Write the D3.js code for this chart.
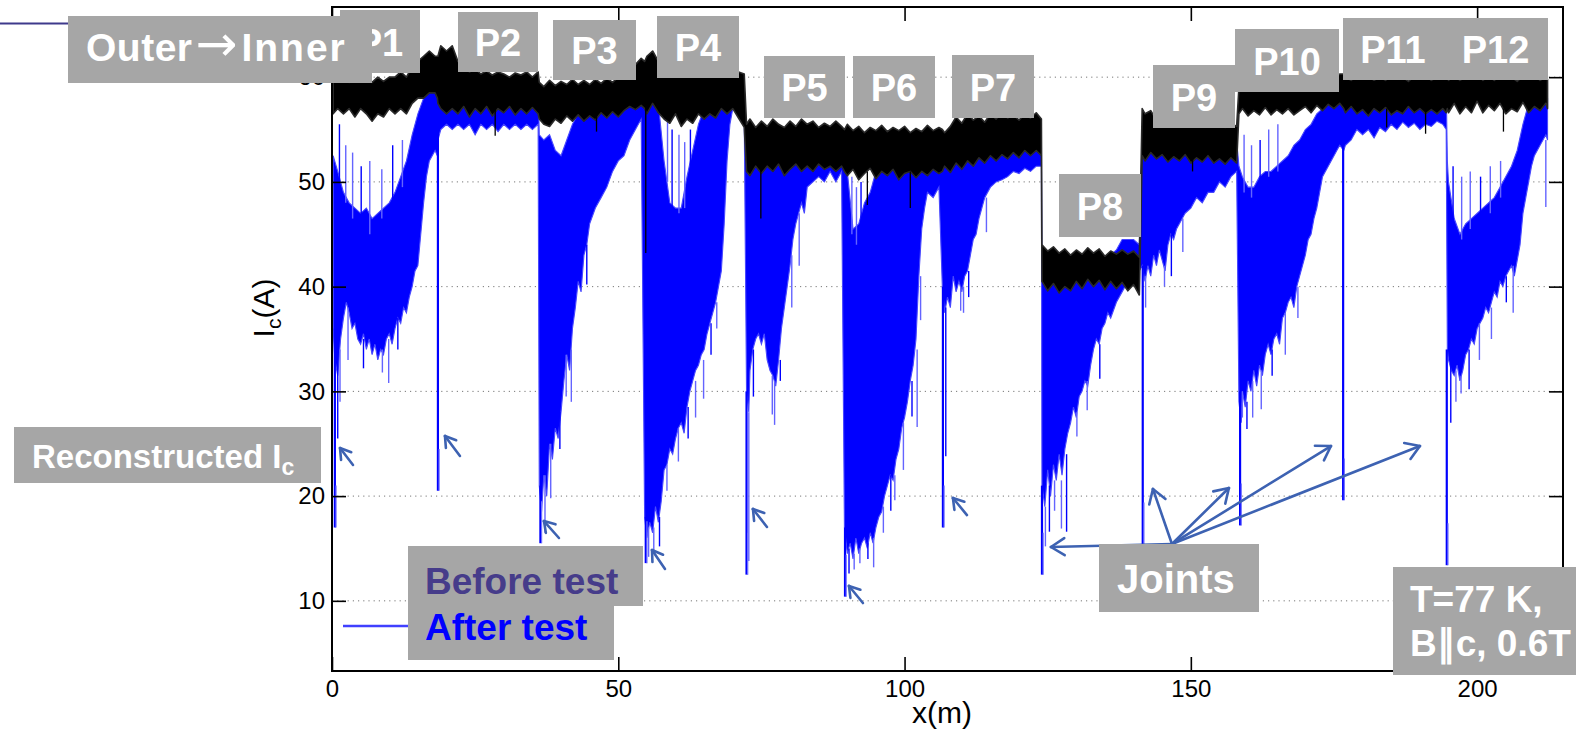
<!DOCTYPE html>
<html><head><meta charset="utf-8">
<script src="https://cdn.jsdelivr.net/npm/d3@7"></script>
<style>
body{margin:0;background:#fff}
svg{display:block}
text{font-family:"Liberation Sans",Arial,Helvetica,sans-serif}
</style>
</head><body>
<svg id="c" width="1576" height="731"></svg>
<script>
// ---------------- DATA (Ic in A vs x in m) ----------------
const hiX = [
 0.2,1,2,3,4,5,6,7,8,9,10,11,12,13,14,15,16,17,18,18.4,
 18.5,19,20,21,22,23,24,25,26,27,28,29,30,31,32,33,34,35,36,
 36.2,37,38,39,40,41,42,43,44,45,46,47,48,49,50,51,52,53,54,
 54.6,55,56,57,58,59,60,61,62,63,64,65,66,67,68,69,70,71,72,
 72.4,73,74,75,76,77,78,79,80,81,82,83,84,85,86,87,88,89,
 89.5,90,91,92,93,94,95,96,97,98,99,100,101,102,103,104,105,106,
 106.6,107,108,109,110,111,112,113,114,115,116,117,118,119,120,121,122,123,123.9,
 124,125,126,127,128,129,130,131,132,133,134,135,136,137,138,139,140,141,
 141.5,142,143,144,145,146,147,148,149,150,151,152,153,154,155,156,157,158,
 158.4,159,160,161,162,163,164,165,166,167,168,169,170,171,172,173,174,175,176,
 176.7,177,178,179,180,181,182,183,184,185,186,187,188,189,190,191,192,193,194,194.6,
 194.8,195,196,197,198,199,200,201,202,203,204,205,206,207,208,209,210,211,212,212.3];
const blueHi = [
 52.5,51,49,48,47.5,47,47.5,46.5,47,47.5,48,49,50.5,52,54.5,56.5,58,59,59.5,59,
 59,62,62.5,61.5,60,59.5,59.5,59.5,59.5,59.5,59.5,59.5,59.5,59.5,59.5,59.5,59.5,59.5,59.5,
 54.5,54,54.5,53,52.5,54,55.5,56.5,57,57,57,57.5,57.5,57.5,57.5,58,58,58.5,58.5,
 58,58.5,58,57.5,52,48,47.5,47.5,50.5,53,55.5,57,57.5,58,58,58.5,58.5,58,57,
 54,53.5,53,53.5,54,53.5,53,53.5,54,53.5,53,53.5,54,53.5,53,53.5,54,53.5,
 52,51,45.5,46,48,49,51,51.5,52,52,52,52,52,52,52,52,52,52.5,
 52.5,52.5,52.5,53,53,53,53,53.5,53.5,53.5,53.5,54,54,54,54,54.5,54.5,54.5,54.5,
 42.5,42,42.5,42,42.5,42,42.5,42,42.5,42,42.5,42.5,43,43.5,44.5,44.5,44.5,44,
 54.5,54,53.5,54,54.5,54,53.5,54,54.5,54,53.5,54,54.5,54,53.5,54,54.5,54,
 51.5,50.5,49.5,49.5,50.5,51,51,51.5,52,52.5,53.5,54,55,55.5,56.5,57,57.5,58,58.5,
 59.5,59,58.5,59,59.5,59,58.5,59,59.5,59,58.5,59,59.5,59,58.5,59,59.5,59,58.5,59,
 52,50,46.5,45,46,46.5,47,47.5,48,48.5,49.5,50.5,51.5,53,55.5,57.5,58,58.5,58.5,58];
const blackHi = [
 60,59.6,60,59.5,60,59.7,60,59.5,60,59.6,60,60,60.5,60,61,61.5,62,62.5,62,62,
 62,63,62.5,63,61.5,61,60.5,60.8,60.3,60.6,60.2,60.5,60.3,60,60.4,60.2,60.5,60,60.5,
 59.5,59.1,59.7,59.2,59.6,59.3,59.8,59.3,59.7,59.3,59.8,59.4,59.9,59.5,60,60.3,60.8,61.2,61.8,
 61.5,62,62.5,61.5,60.5,60.8,60.1,60.5,60.2,60.6,60.1,60.4,60.2,60.5,60.1,60.3,60.1,60.5,60.3,
 55.5,56,55.2,55.8,55.3,56,55.5,55.2,55.8,55.3,56,55.5,55.8,55.2,55.6,55.3,55.8,55.3,
 55,55.5,54.9,55.3,54.7,55.2,54.9,55.4,54.8,55.2,54.9,55.3,54.7,55.1,54.8,55.4,54.9,55.2,
 55,54.7,55.3,56.2,55.6,56.5,55.9,56.3,55.7,56.5,56,56.6,56.1,56.4,55.9,56.5,56.1,56.6,56,
 44,43.4,43.8,43.2,43.6,43,43.5,43.1,43.7,43.2,43.6,42.9,43.4,43.1,43.5,43.1,43.4,42.8,
 57,56.5,56.8,55.9,56.2,55.6,56,55.5,56.1,55.6,55.9,55.4,55.8,55.3,55.7,55.2,55.6,55.3,
 59,58.7,59.2,58.8,59.3,58.7,59.1,58.8,59.4,58.9,59.2,58.8,59.3,59.6,60,59.6,60.2,59.8,60.3,
 60.3,60,59.7,60.2,59.8,60.1,59.7,60,59.7,60.2,59.8,60,59.6,60.1,59.8,60.2,59.7,60,59.8,60,
 60,59.7,60.2,59.7,60,59.8,60.3,59.7,60.1,59.7,60.2,59.8,60,59.6,60.1,59.8,60.2,59.7,60,59.8];
const blackLo = [
 56.5,57,56.5,57,56.2,57,56.5,55.8,56.5,56.2,57,56.5,57,56.5,57.5,58,58,58.5,58.5,58,
 57.5,57,56.5,57,56.5,57.2,56.2,57,56.5,57.2,56.3,57,56.6,57.2,56.4,57,56.5,57.1,56.5,
 56,55.5,55.3,56,55.6,56.3,55.8,56.4,55.8,56.3,55.9,56.6,56.1,56.7,56.2,56.8,57.2,56.9,57.3,
 57,56.5,57.5,56.6,56,55.6,56.5,55.3,56,55.6,56.5,56,56.5,56.1,57,56.5,57,56.1,55.2,
 51,50.6,51.5,50.8,51.5,51,51.7,50.6,51.2,51.7,51,51.5,51,51.7,51.2,51.5,51,51.5,
 51,50.6,51.2,50.2,50.8,51.3,50.3,51,50.6,51.2,50.2,50.8,51,50.4,51,50.6,51.2,50.8,
 51,51.5,50.9,51.8,51.2,52,51.5,52.3,51.8,52.5,52,52.6,52.2,52.8,52.3,53,52.5,53,52.5,
 40.5,39.6,40.3,39.4,40,39.6,40.5,39.8,40.7,40,40.6,39.7,40.5,39.8,40.4,39.6,40.2,39.2,
 52.5,52,52.8,52.2,52.6,51.9,52.4,52,52.6,51.8,52.3,51.9,52.5,51.8,52.2,51.7,52.3,51.8,
 56.5,57,56.3,56.8,56.4,57.1,56.4,56.9,56.5,57,56.4,56.8,57.2,56.6,57.3,56.8,57.4,57,57.5,
 57,56.6,57.2,56.5,56.9,56.3,57,56.6,57.1,56.4,56.8,56.5,57.2,56.6,57,56.5,56.9,56.5,57,56.6,
 57,56.6,57.5,56.5,57.2,56.6,57.7,56.6,57.3,56.8,57.5,56.5,57,56.7,57.6,56.6,57.2,56.8,57.5,57];

const loX = [
 0.2,0.5,1,1.5,2,2.5,3,3.5,4,4.5,5,5.5,6,6.5,7,7.5,8,8.5,9,9.5,10,10.5,11,11.5,12,12.5,13,13.5,14,14.5,15,15.5,16,16.5,17,17.5,18,18.4,
 18.5,19,20,21,22,23,24,25,26,27,28,29,30,31,32,33,34,35,36,
 36.2,36.6,37,37.5,38,38.5,39,39.5,40,40.5,41,41.5,42,42.5,43,43.5,44,44.5,45,46,47,48,49,50,51,52,53,54,
 54.6,55,55.5,56,56.5,57,57.5,58,58.5,59,59.5,60,60.5,61,61.5,62,62.5,63,63.5,64,64.5,65,65.5,66,66.5,67,67.5,68,68.5,69,69.5,70,71,72,
 72.4,72.8,73,73.5,74,74.5,75,75.5,76,76.5,77,77.5,78,78.5,79,79.5,80,80.5,81,82,82.5,83,84,85,86,87,88,89,
 89.5,90,90.5,91,91.5,92,92.5,93,93.5,94,94.5,95,95.5,96,96.5,97,97.5,98,98.5,99,99.5,100,100.5,101,101.5,102,102.5,103,103.5,104,105,106,
 106.6,107,107.5,108,108.5,109,109.5,110,110.5,111,111.5,112,112.5,113,113.5,114,115,116,117,118,119,120,121,122,123,123.9,
 124,124.5,125,125.5,126,126.5,127,127.5,128,128.5,129,129.5,130,130.5,131,131.5,132,132.5,133,133.5,134,134.5,135,135.5,136,137,138,139,140,141,
 141.5,142,142.5,143,143.5,144,144.5,145,145.5,146,146.5,147,147.5,148,148.5,149,150,151,152,153,154,155,156,157,158,
 158.4,158.8,159,159.5,160,160.5,161,161.5,162,162.5,163,163.5,164,164.5,165,165.5,166,166.5,167,167.5,168,168.5,169,169.5,170,170.5,171,171.5,172,172.5,173,174,175,176,
 176.7,177,178,179,180,181,182,183,184,185,186,187,188,189,190,191,192,193,194,194.6,
 194.8,195,195.5,196,196.5,197,197.5,198,198.5,199,199.5,200,200.5,201,201.5,202,202.5,203,203.5,204,204.5,205,205.5,206,206.5,207,207.5,208,208.5,209,209.5,210,211,212,212.3];
const blueLo = [
 36,33,31.5,35,37,38.5,37.5,36,36.5,35,34.5,35.5,34,35,33.5,34.5,33,34,33.5,35,35.5,34.5,36,37,36.5,38,37.5,39,40,41.5,42,45,48,50.5,52,52.5,53,52.5,
 54,55,55.5,55,55.5,55,55.5,54.5,55.5,55,55.5,54.8,55.5,55,55.5,55,55.5,55,55.5,
 21,18.5,22,20,25,23.5,26.5,25.5,28,31,33.5,32,36,38,40.5,39.5,43,44,46,47.5,48.5,49.5,51,52,52.5,54,55,56,
 18,16,17.5,16.5,19,17.5,19.5,22.5,23,24.5,24,25.5,26.5,27,26,28.5,30,31,32,32.5,33.5,34,35.5,36.5,37.5,38.5,40,41.5,46,52,55.5,57,56.5,56,
 30,28,32,34,35,35.5,34.5,35.5,33,32,31.5,30.5,33,36,38,40,42,44.5,46,48,47,49.5,50,50.5,50,51,50,51,
 17,14.5,15.5,14,16,14.5,15.5,16,15,16.5,15.5,17,18,18.5,20,21,22,21.5,23.5,24.5,26.5,27.5,29,31,32.5,35,41,45.5,47.5,49,48.5,49.5,
 40,37.5,39,38,41,39.5,40.5,39.5,41,41.5,43,44.5,45,46.5,47.5,48.5,49.5,50,50.2,50.5,51,50.8,51.3,51,51.5,51.5,
 21,19,22.5,20,23,21.5,24,22,24.5,26,27,28.5,27.5,29.5,30,31,30.5,32.5,34,35,34.5,36,36.5,37.5,37,38.5,39.5,40.5,41,41.5,
 42,40.5,42,41,43,42,43.5,42.5,41.5,44,45,44.5,45.5,46,46.5,47,47.5,48.5,48,49,49,50,49.5,50.5,51,
 29,27,30,28.5,31,30,32,30.5,32.5,31.5,33.5,34.5,33.5,35,35.5,34.5,37,37.5,38.5,39,38,40,41,42,43,44.5,45,46.5,47.5,49,50.5,51.5,52.5,53.5,
 53,53.5,54,55,54.5,55,54.2,55.2,54.8,55.5,55,55.7,55.2,55.6,55,55.5,55.3,55.8,55.5,55,
 34,33,32,31.5,32.5,31,32,33.5,34,35,34.5,36,36.5,37,38,37.5,38.5,39.5,39,40.5,40,41,41.5,42,41,42.5,44,47,48.5,50,51.5,52.5,53.5,54.5,54];

const jointX  = [0.5, 18.5, 36.4, 54.8, 72.4, 89.6, 106.7, 124.0, 141.6, 158.6, 176.6, 194.7];
const jointLo = [17, 20.5, 15.5, 13.6, 12.5, 10.4, 17, 12.5, 15.4, 17.2, 19.6, 13.4];
const jointHi = [36, 56, 21, 18, 30, 17, 40, 21, 42, 30, 56, 34];

const spikeX  = [1.0,1.4,2.8,5.5,8.8,9.9,11.5, 37.2,38.2,39.8,40.9,41.8,44.5, 55.3,56.2,57.2,58.5,60.5,62.2,63.5,64.9,66.2,67.2,
 72.8,73.6,76.9,77.3,78.3,80.3,81.6, 90.3,91.2,92.2,93.6,94.6,96.3,97.6,98.3,99.8,101.3,102.2,102.8,
 107.2,109.8,110.3,111.2,114.3, 124.6,125.3,126.2,127.4,128.3,130.1,131.9,134.1, 142.1,145.4,146.6,148.6,
 159,159.8,160.8,162.3,164.2,166.5,168.7, 195.4,196.3,197.2,198.6,200.4,202.5,205.1,206.3,212,
 1.3,2.4,3.6,5.1,6.6,8.7,10.6,12.3, 58.6,59.4,60.6,61.6,62.6, 90.8,91.6,92.4,
 159.3,160.6,162.1,163.6,165.2, 195.8,197.3,198.8,200.6,202.3,204.1];
const spikeLo = [25.5,29,33,32.2,31.8,30.8,34, 16.5,19.8,24.5,29.5,29,40.2, 14.2,14.8,15.2,20.5,23.3,25.5,27.5,29.3,33.5,36,
 13.8,29.5,27.8,26.8,31,38,42, 12.6,13,13.6,14,13.2,16.5,18.6,19.6,22.5,27.6,26.6,36.8,
 23.8,37.7,37.5,39,45.2, 15.2,16.6,18.6,16.9,16.6,25.7,28.2,31.2, 38,40,41,43.3,
 27.5,26.4,27.5,28.3,31.5,33.5,37, 27,29,29.8,30.2,33,35,38.5,37.5,47.6,
 50,48,46.5,46,45,46.5,47.5,49.5, 50,47,47,47.5,49, 45,44,45.5,
 49,48.5,49.5,50.5,51, 45,44.5,45.5,46,47,48.5];
const spikeHi = [34,34,38,35,34,35,37, 22,25,28,33.5,34,44, 17,17,18,23,26.5,28.5,31,33,36.5,38.5,
 28,34,31.5,31,33,43,47, 15,14.5,15,15.5,16,19,22,22,27,31,34,41,
 38,40,40,41.5,48.5, 19,21,21.5,21.5,24,28,31,34.5, 41,42,45,46.5,
 30,29,31,32,34,37.5,40, 33,32,31.5,34,36.5,38,41,42,54,
 55.5,53.5,52.8,51.5,52,51.2,53.5,54, 56,55,54.5,53.8,55, 50.5,49.5,50,
 54.5,53.5,54,55,55.5, 51.5,50.5,51,50.5,51.5,52];

const blackSpikeX  = [7.0, 28.5, 46.2, 54.8, 74.9, 93.5, 101.0, 150.3, 184.2, 191.0, 204.6];
const blackSpikeLo = [55.9, 54.4, 54.8, 43.2, 46.5, 47.8, 47.5, 51, 55.2, 54.6, 54.8];
const blackSpikeHi = [57, 57, 57, 60, 52, 51, 51, 53, 57, 57, 57];

const xTicks = [0, 50, 100, 150, 200];
const yTicks = [10, 20, 30, 40, 50, 60];
const panelNames = ["P1","P2","P3","P4","P5","P6","P7","P8","P9","P10","P11","P12"];
const legendNames = ["Before test", "After test"];

const arrowTailX = [3.67, 22.35, 39.64, 58.16, 75.97, 92.73, 110.90];
const arrowTailY = [22.97, 23.83, 16.0, 13.04, 17.05, 9.79, 18.19];
const arrowHeadX = [1.40, 19.73, 37.02, 55.89, 73.52, 90.29, 108.45];
const arrowHeadY = [24.59, 25.74, 17.62, 14.85, 18.77, 11.42, 19.82];
const jointsOrigin = [146.7, 15.43];
const jointsTargetX = [125.57, 143.38, 156.65, 174.47, 190.01];
const jointsTargetY = [15.14, 20.68, 20.77, 24.78, 24.78];

// ---------------- LAYOUT ----------------
const svg = d3.select("#c");
const X0 = 332, X1 = 1563, Y0 = 671, Y1 = 7;
const x = d3.scaleLinear().domain([0, 215]).range([X0, X1]);
const y = d3.scaleLinear().domain([3.3, 66.7]).range([Y0, Y1]);
const ARROW = "#3d62b2";

svg.append("defs").append("clipPath").attr("id","clip")
  .append("rect").attr("x",X0).attr("y",Y1).attr("width",X1-X0).attr("height",Y0-Y1);

svg.append("g").selectAll("line").data(yTicks).join("line")
  .attr("x1",X0).attr("x2",X1).attr("y1",d=>y(d)).attr("y2",d=>y(d))
  .attr("stroke","#777").attr("stroke-width",1).attr("stroke-dasharray","1.2,4");

const plot = svg.append("g").attr("clip-path","url(#clip)");

const bHi = d3.zip(hiX, blueHi).map(([a,b]) => [x(a), y(b)]);
const bLo = d3.zip(loX, blueLo).map(([a,b]) => [x(a), y(b)]).reverse();
plot.append("path").attr("d", d3.line()(bHi.concat(bLo)) + "Z")
  .attr("fill","#0000ff").attr("stroke","#4848ff").attr("stroke-width",1.1);

plot.append("g").selectAll("line").data(d3.zip(spikeX, spikeLo, spikeHi)).join("line")
  .attr("x1",d=>x(d[0])).attr("x2",d=>x(d[0])).attr("y1",d=>y(d[1])).attr("y2",d=>y(d[2]))
  .attr("stroke",(d,i)=>i%3===0?"#0000ff":"#6464ff").attr("stroke-width",1.4);

plot.append("g").selectAll("line").data(d3.zip(jointX, jointLo, jointHi)).join("line")
  .attr("x1",d=>x(d[0])).attr("x2",d=>x(d[0])).attr("y1",d=>y(d[1])).attr("y2",d=>y(d[2]))
  .attr("stroke","#0000ff").attr("stroke-width",2.2);
plot.append("g").selectAll("line").data(d3.zip(jointX, jointLo)).join("line")
  .attr("x1",d=>x(d[0])+1.2).attr("x2",d=>x(d[0])+1.2).attr("y1",d=>y(d[1])).attr("y2",d=>y(d[1]+4))
  .attr("stroke","#7070ff").attr("stroke-width",1.2);

const kHi = d3.zip(hiX, blackHi).map(([a,b]) => [x(a), y(b)]);
const kLo = d3.zip(hiX, blackLo).map(([a,b]) => [x(a), y(b)]).reverse();
plot.append("path").attr("d", d3.line()(kHi.concat(kLo)) + "Z")
  .attr("fill","#000").attr("stroke","#2a2a2a").attr("stroke-width",1.6).attr("stroke-linejoin","round");
plot.append("g").selectAll("line").data(d3.zip(blackSpikeX, blackSpikeLo, blackSpikeHi)).join("line")
  .attr("x1",d=>x(d[0])).attr("x2",d=>x(d[0])).attr("y1",d=>y(d[1])).attr("y2",d=>y(d[2]))
  .attr("stroke","#000").attr("stroke-width",1.3);

const fs = "24px";
const gl = svg.append("g").attr("transform",`translate(${X0},0)`)
  .call(d3.axisLeft(y).tickValues(yTicks).tickSize(-14).tickPadding(7).tickSizeOuter(0));
const gb = svg.append("g").attr("transform",`translate(0,${Y0})`)
  .call(d3.axisBottom(x).tickValues(xTicks).tickSize(-14).tickPadding(9).tickSizeOuter(0));
const gr = svg.append("g").attr("transform",`translate(${X1},0)`)
  .call(d3.axisRight(y).tickValues(yTicks).tickSize(-14).tickFormat("").tickSizeOuter(0));
const gt = svg.append("g").attr("transform",`translate(0,${Y1})`)
  .call(d3.axisTop(x).tickValues(xTicks).tickSize(-14).tickFormat("").tickSizeOuter(0));
[gl,gb,gr,gt].forEach(g=>{
  g.select(".domain").remove();
  g.selectAll(".tick line").attr("stroke","#000").attr("stroke-width",1.6);
  g.selectAll(".tick text").attr("font-size",fs).attr("fill","#000")
    .attr("font-family",'"Liberation Sans",Arial,sans-serif');
});
svg.append("rect").attr("x",X0).attr("y",Y1).attr("width",X1-X0).attr("height",Y0-Y1)
  .attr("fill","none").attr("stroke","#000").attr("stroke-width",2);

const yl = svg.append("text").attr("transform","translate(274,308) rotate(-90)")
  .attr("text-anchor","middle").attr("font-size","30px").attr("fill","#000");
yl.append("tspan").text("I");
yl.append("tspan").text("c").attr("font-size","21px").attr("dy","7");
yl.append("tspan").text("(A)").attr("dy","-7");
svg.append("text").attr("x",942).attr("y",723).attr("text-anchor","middle")
  .attr("font-size","30px").attr("fill","#000").text("x(m)");

function head(g, x1, y1, x2, y2, len){
  const a = Math.atan2(y2-y1, x2-x1);
  [Math.PI*0.82, -Math.PI*0.82].forEach(da=>{
    g.append("line").attr("x1",x2).attr("y1",y2)
      .attr("x2",x2+len*Math.cos(a+da)).attr("y2",y2+len*Math.sin(a+da));
  });
}
const ag = svg.append("g").attr("stroke",ARROW).attr("stroke-width",2.6).attr("stroke-linecap","round").attr("fill","none");
arrowTailX.forEach((_,i)=>{
  const x1=x(arrowTailX[i]), y1=y(arrowTailY[i]), x2=x(arrowHeadX[i]), y2=y(arrowHeadY[i]);
  ag.append("line").attr("x1",x1).attr("y1",y1).attr("x2",x2).attr("y2",y2);
  head(ag,x1,y1,x2,y2,12);
});
jointsTargetX.forEach((_,i)=>{
  const x1=x(jointsOrigin[0]), y1=y(jointsOrigin[1]), x2=x(jointsTargetX[i]), y2=y(jointsTargetY[i]);
  ag.append("line").attr("x1",x1).attr("y1",y1).attr("x2",x2).attr("y2",y2);
  head(ag,x1,y1,x2,y2,16);
});

const GRAY = "#a6a6a6";
const panelBoxes = [[340,10,80,63],[458,12,80,60],[553,20,83,60],[657,16,82,62],[764,56,81,62],[853,56,82,62],
  [952,55,82,63],[1059,174,82,63],[1153,65,82,63],[1235,29,104,63],[1343,18,100,62],[1443,18,105,62]];
const lab = svg.append("g");
panelNames.forEach((n,i)=>{
  const b = panelBoxes[i];
  lab.append("rect").attr("x",b[0]).attr("y",b[1]).attr("width",b[2]).attr("height",b[3]).attr("fill",GRAY);
  lab.append("text").attr("x",b[0]+b[2]/2).attr("y",b[1]+b[3]/2+14).attr("text-anchor","middle")
    .attr("font-size","38px").attr("font-weight","bold").attr("fill","#fff").text(n);
});
svg.append("line").attr("x1",0).attr("x2",70).attr("y1",23.5).attr("y2",23.5).attr("stroke","#3f3a8c").attr("stroke-width",2);
svg.append("rect").attr("x",68).attr("y",16).attr("width",304).attr("height",67).attr("fill",GRAY);
const ot = svg.append("text").attr("x",86).attr("y",61).attr("font-size","39px").attr("font-weight","bold").attr("fill","#fff");
ot.append("tspan").attr("letter-spacing","0.5").text("Outer");
ot.append("tspan").attr("dx","3").attr("font-family","'DejaVu Sans',sans-serif").attr("font-weight","normal").attr("font-size","50px").text("\u2192");
ot.append("tspan").attr("dx","4").attr("letter-spacing","2").text("Inner");
svg.append("rect").attr("x",14).attr("y",427).attr("width",307).attr("height",56).attr("fill",GRAY);
const rt = svg.append("text").attr("x",32).attr("y",468).attr("font-size","33px").attr("font-weight","bold").attr("fill","#fff");
rt.append("tspan").text("Reconstructed I");
rt.append("tspan").text("c").attr("font-size","23px").attr("dy","7");
svg.append("rect").attr("x",408).attr("y",546).attr("width",235).attr("height",60).attr("fill",GRAY);
svg.append("rect").attr("x",408).attr("y",606).attr("width",206).attr("height",54).attr("fill",GRAY);
svg.append("line").attr("x1",343).attr("x2",408).attr("y1",626).attr("y2",626).attr("stroke","#4040ff").attr("stroke-width",2.5);
svg.append("text").attr("x",425).attr("y",594).attr("font-size","37px").attr("font-weight","bold").attr("fill","#463c8a").text(legendNames[0]);
svg.append("text").attr("x",425).attr("y",640).attr("font-size","37px").attr("font-weight","bold").attr("fill","#0000ff").text(legendNames[1]);
svg.append("rect").attr("x",1099).attr("y",544).attr("width",160).attr("height",68).attr("fill",GRAY);
svg.append("text").attr("x",1117).attr("y",593).attr("font-size","40px").attr("font-weight","bold").attr("fill","#fff").text("Joints");
svg.append("rect").attr("x",1393).attr("y",567).attr("width",183).attr("height",108).attr("fill",GRAY);
svg.append("text").attr("x",1410).attr("y",612).attr("font-size","37px").attr("font-weight","bold").attr("fill","#fff").text("T=77 K,");
svg.append("text").attr("x",1410).attr("y",656).attr("font-size","37px").attr("font-weight","bold").attr("fill","#fff").text("B\u2225c, 0.6T");
</script>
</body></html>
